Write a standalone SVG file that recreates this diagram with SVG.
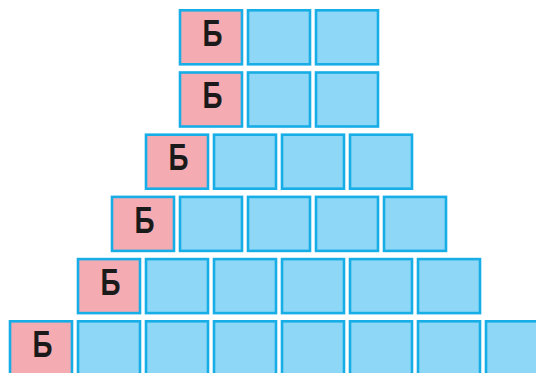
<svg xmlns="http://www.w3.org/2000/svg" width="536" height="373" viewBox="0 0 536 373">
<style>
.b{fill:#8fd7f6;stroke:#17ade6;stroke-width:2.6}
.p{fill:#f5abb2;stroke:#17ade6;stroke-width:2.6}
.t{font-family:"Liberation Sans",Arial,sans-serif;font-weight:bold;font-size:36px;fill:#1a1a1a;text-anchor:middle}
</style>
<rect width="536" height="373" fill="#ffffff"/>
<g id="row1">
<g id="r1c0"><rect class="p" x="180" y="10.3" width="62" height="54"/><text class="t" x="212.5" y="46" textLength="20" lengthAdjust="spacingAndGlyphs">Б</text></g>
<g id="r1c1"><rect class="b" x="248" y="10.3" width="62" height="54"/></g>
<g id="r1c2"><rect class="b" x="316" y="10.3" width="62" height="54"/></g>
</g>
<g id="row2">
<g id="r2c0"><rect class="p" x="180" y="72.5" width="62" height="54"/><text class="t" x="212.5" y="108.2" textLength="20" lengthAdjust="spacingAndGlyphs">Б</text></g>
<g id="r2c1"><rect class="b" x="248" y="72.5" width="62" height="54"/></g>
<g id="r2c2"><rect class="b" x="316" y="72.5" width="62" height="54"/></g>
</g>
<g id="row3">
<g id="r3c0"><rect class="p" x="146" y="134.7" width="62" height="54"/><text class="t" x="178.5" y="170.4" textLength="20" lengthAdjust="spacingAndGlyphs">Б</text></g>
<g id="r3c1"><rect class="b" x="214" y="134.7" width="62" height="54"/></g>
<g id="r3c2"><rect class="b" x="282" y="134.7" width="62" height="54"/></g>
<g id="r3c3"><rect class="b" x="350" y="134.7" width="62" height="54"/></g>
</g>
<g id="row4">
<g id="r4c0"><rect class="p" x="112" y="196.9" width="62" height="54"/><text class="t" x="144.5" y="232.6" textLength="20" lengthAdjust="spacingAndGlyphs">Б</text></g>
<g id="r4c1"><rect class="b" x="180" y="196.9" width="62" height="54"/></g>
<g id="r4c2"><rect class="b" x="248" y="196.9" width="62" height="54"/></g>
<g id="r4c3"><rect class="b" x="316" y="196.9" width="62" height="54"/></g>
<g id="r4c4"><rect class="b" x="384" y="196.9" width="62" height="54"/></g>
</g>
<g id="row5">
<g id="r5c0"><rect class="p" x="78" y="259.1" width="62" height="54"/><text class="t" x="110.5" y="294.8" textLength="20" lengthAdjust="spacingAndGlyphs">Б</text></g>
<g id="r5c1"><rect class="b" x="146" y="259.1" width="62" height="54"/></g>
<g id="r5c2"><rect class="b" x="214" y="259.1" width="62" height="54"/></g>
<g id="r5c3"><rect class="b" x="282" y="259.1" width="62" height="54"/></g>
<g id="r5c4"><rect class="b" x="350" y="259.1" width="62" height="54"/></g>
<g id="r5c5"><rect class="b" x="418" y="259.1" width="62" height="54"/></g>
</g>
<g id="row6">
<g id="r6c0"><rect class="p" x="10" y="321.3" width="62" height="54"/><text class="t" x="42.5" y="357" textLength="20" lengthAdjust="spacingAndGlyphs">Б</text></g>
<g id="r6c1"><rect class="b" x="78" y="321.3" width="62" height="54"/></g>
<g id="r6c2"><rect class="b" x="146" y="321.3" width="62" height="54"/></g>
<g id="r6c3"><rect class="b" x="214" y="321.3" width="62" height="54"/></g>
<g id="r6c4"><rect class="b" x="282" y="321.3" width="62" height="54"/></g>
<g id="r6c5"><rect class="b" x="350" y="321.3" width="62" height="54"/></g>
<g id="r6c6"><rect class="b" x="418" y="321.3" width="62" height="54"/></g>
<g id="r6c7"><rect class="b" x="486" y="321.3" width="62" height="54"/></g>
</g>
<g id="connectors"/>
</svg>
